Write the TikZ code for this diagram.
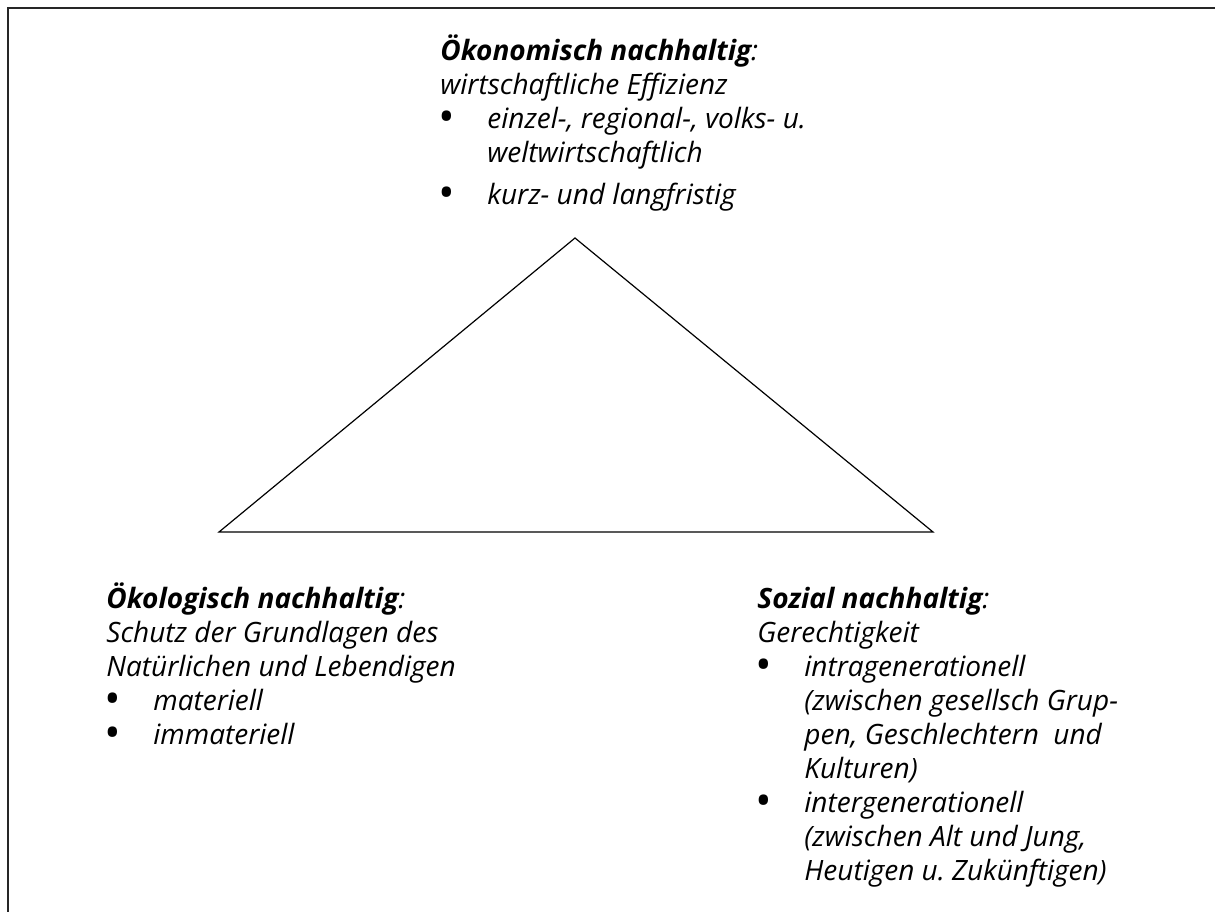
\documentclass[tikz,border=0pt]{standalone}
\usepackage{fontspec}
\setmainfont{Open Sans}
\usepackage{array}
\usetikzlibrary{positioning}
\newcommand{\blt}{\hspace*{-1.5pt}\raisebox{-0.3ex}[0pt][0pt]{\scalebox{1.6}{\textbullet}}}
\frenchspacing

\begin{document}
\begin{tikzpicture}[
  x=0.5pt, y=-0.5pt,
  frame/.style={draw=black!85, line width=1.2pt},
  edge/.style={draw=black, line width=0.6pt, line join=miter},
  block/.style={anchor=base west, inner sep=0pt, align=left, font=\fontsize{14}{17}\selectfont\itshape}
]
  \useasboundingbox (0,0) rectangle (1215,911);
  \draw[frame] (8,912) -- (8,8) -- (1216,8);

  \coordinate (top) at (575,238);
  \coordinate (left) at (219,532);
  \coordinate (right) at (933,532);
  \draw[edge] (top) -- (right) -- (left) -- cycle;

  \node[block] (oeko) at (440,60) {\begin{tabular}[t]{@{}p{23.5pt}@{}l@{}}
    \multicolumn{2}{@{}l@{}}{\textbf{Ökonomisch nachhaltig}:}\\
    \multicolumn{2}{@{}l@{}}{wirtschaftliche Effizienz}\\
    \blt & einzel-, regional-, volks- u.\\
         & weltwirtschaftlich\\[4pt]
    \blt & kurz- und langfristig
  \end{tabular}};

  \node[block] (oekol) at (106,608) {\begin{tabular}[t]{@{}p{23.5pt}@{}l@{}}
    \multicolumn{2}{@{}l@{}}{\textbf{Ökologisch nachhaltig}:}\\
    \multicolumn{2}{@{}l@{}}{Schutz der Grundlagen des}\\
    \multicolumn{2}{@{}l@{}}{Natürlichen und Lebendigen}\\
    \blt & materiell\\
    \blt & immateriell
  \end{tabular}};

  \node[block] (sozial) at (757,608) {\begin{tabular}[t]{@{}p{23.5pt}@{}l@{}}
    \multicolumn{2}{@{}l@{}}{\textbf{Sozial nachhaltig}:}\\
    \multicolumn{2}{@{}l@{}}{Gerechtigkeit}\\
    \blt & intragenerationell\\
         & (zwischen gesellsch Grup-\\
         & pen, Geschlechtern~ und\\
         & Kulturen)\\
    \blt & intergenerationell\\
         & (zwischen Alt und Jung,\\
         & Heutigen u. Zukünftigen)
  \end{tabular}};
\end{tikzpicture}
\end{document}
